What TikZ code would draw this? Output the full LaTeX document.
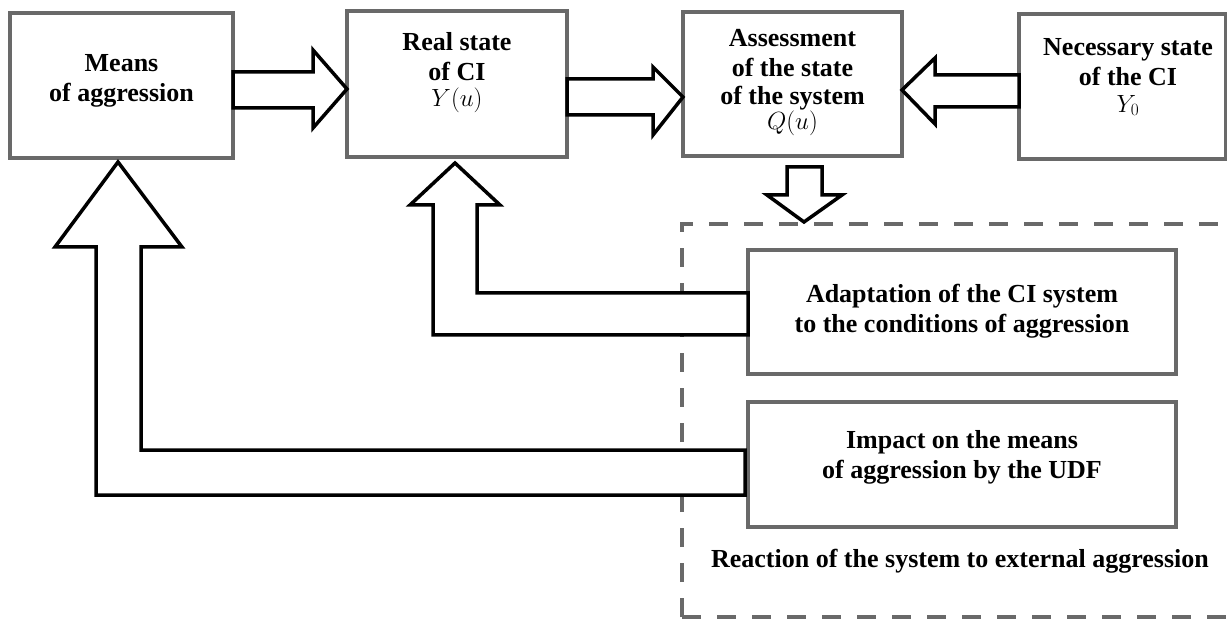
\documentclass[tikz,border=0pt]{standalone}
\usepackage{fontspec}
\setmainfont{Liberation Serif}

\definecolor{boxgray}{RGB}{105,105,105}

\tikzset{
	block/.style = {draw=boxgray, line width=3.5pt, outer sep=0pt, inner sep=0pt, fill=white},
	caption/.style = {font=\fontsize{26}{30}\selectfont\bfseries, align=center, inner sep=0pt},
	fatarrow/.style = {draw=black, line width=3.5pt, fill=white, line join=miter},
	zone/.style = {draw=boxgray, line width=3.5pt, dash pattern=on 19pt off 16pt}
}

\begin{document}
\begin{tikzpicture}[x=1pt, y=-1pt]
	%	frame
	\useasboundingbox (0,0) rectangle (1227,620);
	\clip (0,0) rectangle (1227,620);

	%	reaction zone
	\draw[zone] (682,617) -- (682,224) -- (1245,224);
	\draw[zone] (682,617) -- (1245,617);

	%	blocks
	\node[block, minimum width=223pt, minimum height=145pt] (means) at (121.5,85.5) {};
	\node[block, minimum width=220pt, minimum height=146pt] (real) at (457,84) {};
	\node[block, minimum width=219pt, minimum height=144pt] (assess) at (792.5,84) {};
	\node[block, minimum width=207pt, minimum height=145pt] (needed) at (1122.5,86.5) {};
	\node[block, minimum width=428pt, minimum height=124pt] (adapt) at (962,312) {};
	\node[block, minimum width=428pt, minimum height=125pt] (impact) at (962,464.5) {};

	%	texts
	\node[caption] (meanstext) at (121.5,81) {Means\\of aggression};
	\node[caption] (realtext) at (457,73) {Real state\\of CI\\[-4pt]$Y(u)$};
	\node[caption] (assesstext) at (792.5,83) {Assessment\\of the state\\[-2pt]of the system\\[-5pt]$Q(u)$};
	\node[caption] (neededtext) at (1128,77) {Necessary state\\of the CI\\[-3pt]$Y_0$};
	\node[caption] (adapttext) at (962,311) {Adaptation of the CI system\\to the conditions of aggression};
	\node[caption] (impacttext) at (962,457) {Impact on the means\\of aggression by the UDF};
	\node[caption] (reaction) at (960,561) {Reaction of the system to external aggression};

	%	arrows along the top row
	\draw[fatarrow] (means.east |- 0,72) -- (313,72) -- (313,50) -- (real.west |- 0,89)
		-- (313,128) -- (313,108) -- (means.east |- 0,108) -- cycle;
	\draw[fatarrow] (real.east |- 0,79) -- (653,79) -- (653,67) -- (assess.west |- 0,97)
		-- (653,135) -- (653,115) -- (real.east |- 0,115) -- cycle;
	\draw[fatarrow] (needed.west |- 0,75) -- (935,75) -- (935,58) -- (assess.east |- 0,90)
		-- (935,124) -- (935,107) -- (needed.west |- 0,107) -- cycle;

	%	down into the zone
	\coordinate (zonetip) at (804,222);
	\draw[fatarrow] (787,167) -- (822,167) -- (822,195) -- (842,195) -- (zonetip)
		-- (767,195) -- (787,195) -- cycle;

	%	feedback arrows
	\draw[fatarrow] (adapt.west |- 0,293) -- (477,293) -- (477,205) -- (500,205) -- (455,163)
		-- (410,205) -- (433,205) -- (433,335) -- (adapt.west |- 0,335) -- cycle;
	\draw[fatarrow] (745,450) -- (141,450) -- (141,247) -- (182,247) -- (118,162)
		-- (55,247) -- (96,247) -- (96,495) -- (745,495) -- cycle;
\end{tikzpicture}
\end{document}
